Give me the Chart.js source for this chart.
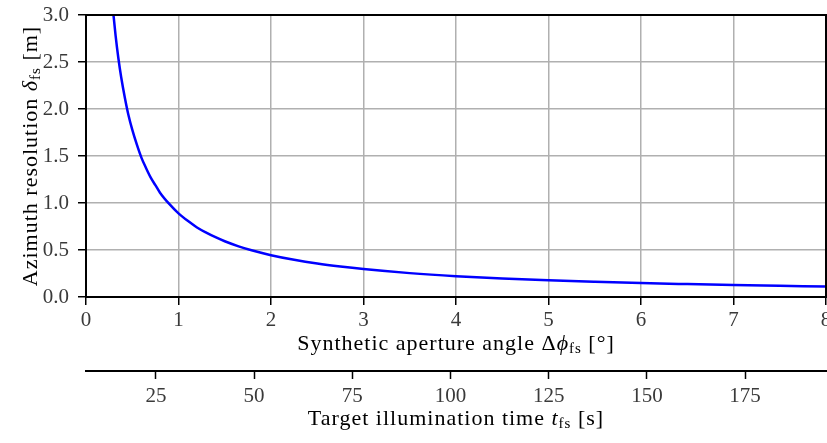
<!DOCTYPE html>
<html>
<head>
<meta charset="utf-8">
<script src="https://cdn.jsdelivr.net/npm/chart.js@4.4.0/dist/chart.umd.min.js"></script>
<style>
html,body{margin:0;padding:0;overflow:hidden;background:#fff;}
#wrap{position:absolute;left:0;top:0;width:840px;height:443px;}
</style>
</head>
<body>
<div id="wrap"><canvas id="c"></canvas></div>
<script>
// Synthetic aperture angle [deg] and azimuth resolution [m]
const angleDeg   = [0.29, 0.32, 0.35, 0.38, 0.42, 0.46, 0.50, 0.55, 0.60, 0.65, 0.70, 0.75, 0.80, 0.90, 1.00, 1.10, 1.20, 1.30, 1.40, 1.50, 1.65, 1.80, 2.00, 2.25, 2.50, 2.75, 3.00, 3.50, 4.00, 4.50, 5.00, 5.50, 6.00, 6.50, 7.00, 7.50, 8.00];
const resolution = [3.07, 2.78, 2.54, 2.34, 2.12, 1.93, 1.78, 1.62, 1.48, 1.37, 1.27, 1.19, 1.11, 0.99, 0.89, 0.81, 0.74, 0.685, 0.636, 0.593, 0.539, 0.494, 0.445, 0.396, 0.356, 0.324, 0.297, 0.254, 0.222, 0.198, 0.178, 0.162, 0.148, 0.137, 0.127, 0.119, 0.111];
// Tick labels
const angleTicks = [0, 1, 2, 3, 4, 5, 6, 7, 8];
const resTicks   = [0.0, 0.5, 1.0, 1.5, 2.0, 2.5, 3.0];
const timeTicks  = [25, 50, 75, 100, 125, 150, 175];
// Secondary axis range (illumination time at 0° and 8°)
const timeMin = 7.2, timeMax = 195.6;

const SERIF = "'Liberation Serif', 'Times New Roman', serif";
const tickFont = {family: SERIF, size: 21};
const tickColor = '#3a3a3a';

function drawRich(ctx, segs, cx, baseY, rotate) {
  ctx.save();
  let total = 0;
  if ('letterSpacing' in ctx) ctx.letterSpacing = '1px';
  segs.forEach(s => { ctx.font = s.font; s.w = ctx.measureText(s.text).width; total += s.w; });
  ctx.translate(cx, baseY);
  if (rotate) ctx.rotate(-Math.PI / 2);
  ctx.textBaseline = 'alphabetic';
  ctx.textAlign = 'left';
  ctx.fillStyle = '#000';
  let x = -total / 2;
  segs.forEach(s => { ctx.font = s.font; ctx.fillText(s.text, x, s.dy || 0); x += s.w; });
  ctx.restore();
}

const titles = {
  id: 'titles',
  afterDraw(chart) {
    const ctx = chart.ctx, a = chart.chartArea;
    ctx.save();
    ctx.strokeStyle = '#000';
    ctx.lineWidth = 2;
    ctx.strokeRect(a.left, a.top, a.right - a.left, a.bottom - a.top);
    ctx.restore();
    const N = "22px " + SERIF, I = "italic 22px " + SERIF, S = "15px " + SERIF;
    const cx = (a.left + a.right) / 2;
    drawRich(ctx, [
      {text: 'Synthetic aperture angle Δ', font: N},
      {text: 'ϕ', font: I},
      {text: 'fs', font: S, dy: 3},
      {text: ' [°]', font: N}
    ], cx, 350, false);
    drawRich(ctx, [
      {text: 'Target illumination time ', font: N},
      {text: 't', font: I},
      {text: 'fs', font: S, dy: 3},
      {text: ' [s]', font: N}
    ], cx, 425, false);
    drawRich(ctx, [
      {text: 'Azimuth resolution ', font: N},
      {text: 'δ', font: I},
      {text: 'fs', font: S, dy: 3},
      {text: ' [m]', font: N}
    ], 37, (a.top + a.bottom) / 2, true);
  }
};

new Chart(document.getElementById('c'), {
  type: 'line',
  data: {
    datasets: [{
      data: angleDeg.map((v, i) => ({x: v, y: resolution[i]})),
      borderColor: '#0000ff',
      borderWidth: 2.5,
      pointRadius: 0,
      cubicInterpolationMode: 'monotone',
      fill: false
    }]
  },
  options: {
    animation: false,
    responsive: true,
    maintainAspectRatio: false,
    layout: {padding: {left: 0, top: 15, right: 14, bottom: 0}},
    plugins: {legend: {display: false}, tooltip: {enabled: false}},
    scales: {
      x: {
        type: 'linear', position: 'bottom', weight: 0,
        min: angleTicks[0], max: angleTicks[angleTicks.length - 1],
        afterBuildTicks: s => { s.ticks = angleTicks.map(v => ({value: v})); },
        afterFit: s => { s.height = 74; s.paddingRight = 0; s.paddingLeft = 0; },
        grid: {color: '#b0b0b0', lineWidth: 1.5, tickColor: '#000', tickLength: 8, tickWidth: 1.5},
        border: {color: '#000', width: 2},
        ticks: {font: tickFont, color: tickColor, padding: 3, maxRotation: 0, autoSkip: false,
                callback: v => String(v)}
      },
      x2: {
        type: 'linear', position: 'bottom', weight: 1,
        min: timeMin, max: timeMax,
        afterBuildTicks: s => { s.ticks = timeTicks.map(v => ({value: v})); },
        afterFit: s => { s.height = 72; s.paddingRight = 0; s.paddingLeft = 0; },
        grid: {drawOnChartArea: false, tickColor: '#000', tickLength: 8, tickWidth: 1.5},
        border: {color: '#000', width: 2},
        ticks: {font: tickFont, color: tickColor, padding: 5, maxRotation: 0, autoSkip: false,
                callback: v => String(v)}
      },
      y: {
        type: 'linear', position: 'left',
        min: resTicks[0], max: resTicks[resTicks.length - 1],
        afterBuildTicks: s => { s.ticks = resTicks.map(v => ({value: v})); },
        afterFit: s => { s.width = 86; s.paddingTop = 0; s.paddingBottom = 0; },
        grid: {color: '#b0b0b0', lineWidth: 1.5, tickColor: '#000', tickLength: 8, tickWidth: 1.5},
        border: {color: '#000', width: 2},
        ticks: {font: tickFont, color: tickColor, padding: 9, callback: v => Number(v).toFixed(1)}
      }
    }
  },
  plugins: [titles]
});
</script>
</body>
</html>
